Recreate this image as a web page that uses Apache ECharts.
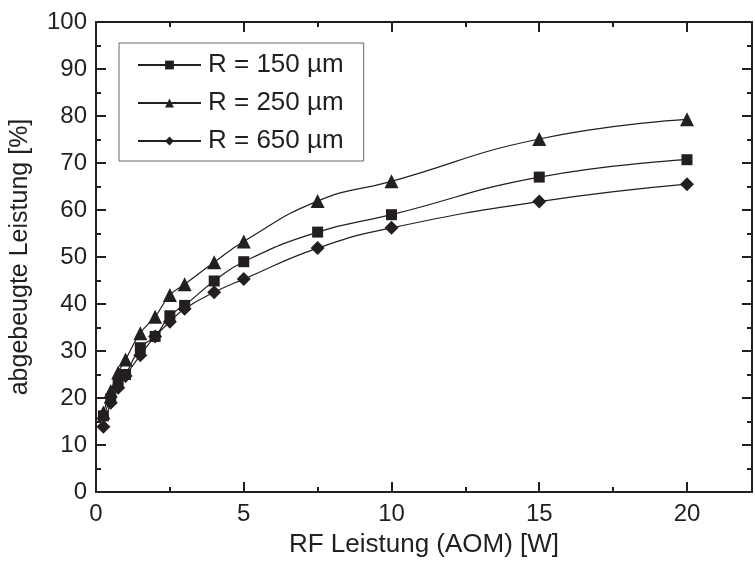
<!DOCTYPE html>
<html>
<head>
<meta charset="utf-8">
<script src="https://cdn.jsdelivr.net/npm/echarts@6/dist/echarts.min.js"></script>
<style>
html,body{margin:0;padding:0;background:#fff;}
#chart{width:755px;height:563px;}
</style>
</head>
<body>
<div id="chart"></div>
<script>
// Data
var xValues = [0.25, 0.5, 0.75, 1, 1.5, 2, 2.5, 3, 4, 5, 7.5, 10, 15, 20];
var r150 = [16.2, 19.8, 23.0, 25.0, 30.7, 33.1, 37.5, 39.7, 44.9, 49.0, 55.3, 59.0, 67.0, 70.7];
var r250 = [16.9, 21.5, 25.4, 28.2, 33.8, 37.3, 41.9, 44.2, 48.9, 53.3, 61.9, 66.1, 75.1, 79.3];
var r650 = [13.9, 19.0, 22.2, 24.7, 29.1, 33.1, 36.2, 39.0, 42.5, 45.3, 51.9, 56.2, 61.8, 65.5];
var seriesNames = ['R = 150 µm', 'R = 250 µm', 'R = 650 µm'];
var xTicks = [0, 5, 10, 15, 20];
var yTicks = [0, 10, 20, 30, 40, 50, 60, 70, 80, 90, 100];

function pairs(ys) { return xValues.map(function (x, i) { return [x, ys[i]]; }); }

var FONT = 'Liberation Sans';
var INK = '#231f20';
var XMAX = 22.2;

var chart = echarts.init(document.getElementById('chart'), null, {renderer: 'canvas'});

function xAxisCfg(pos, interval, len, showLine, showLabel) {
  return {
    type: 'value', position: pos, min: 0, max: XMAX, interval: interval,
    axisLine: {show: showLine, onZero: false, lineStyle: {color: INK, width: 2}},
    axisTick: {show: true, inside: true, length: len, lineStyle: {color: INK, width: 2}},
    axisLabel: {
      show: showLabel, color: INK, fontFamily: FONT, fontSize: 24, margin: 10,
      formatter: function (v) { return xTicks.indexOf(v) >= 0 ? String(v) : ''; }
    },
    splitLine: {show: false}
  };
}

function yAxisCfg(pos, showLabel) {
  return {
    type: 'value', position: pos, min: 0, max: 100, interval: 10,
    axisLine: {show: true, onZero: false, lineStyle: {color: INK, width: 2}},
    axisTick: {show: true, inside: true, length: 10, lineStyle: {color: INK, width: 2}},
    minorTick: {show: true, splitNumber: 2, length: 5, lineStyle: {color: INK, width: 2}},
    axisLabel: {
      show: showLabel, color: INK, fontFamily: FONT, fontSize: 24, margin: 9,
      formatter: function (v) { return yTicks.indexOf(v) >= 0 ? String(v) : ''; }
    },
    splitLine: {show: false}
  };
}

var xMain = xAxisCfg('bottom', 5, 10, true, true);
xMain.name = 'RF Leistung (AOM) [W]';
xMain.nameLocation = 'middle';
xMain.nameGap = 40;
xMain.nameTextStyle = {color: INK, fontFamily: FONT, fontSize: 26};

var yMain = yAxisCfg('left', true);
yMain.name = 'abgebeugte Leistung [%]';
yMain.nameLocation = 'middle';
yMain.nameGap = 63;
yMain.nameTextStyle = {color: INK, fontFamily: FONT, fontSize: 25};

var symbols = ['rect', 'triangle', 'diamond'];
var sizes = [11, 14, 14];
var datas = [r150, r250, r650];

var series = datas.map(function (d, i) {
  return {
    name: seriesNames[i], type: 'line', xAxisIndex: 0, yAxisIndex: 0,
    data: pairs(d), smooth: 0.5,
    symbol: symbols[i], symbolSize: sizes[i],
    showSymbol: true,
    lineStyle: {color: INK, width: 1.2},
    itemStyle: {color: INK, borderColor: INK, borderWidth: 0},
    emphasis: {disabled: true},
    animation: false, z: 3
  };
});

chart.setOption({
  backgroundColor: '#ffffff',
  animation: false,
  grid: {left: 96, top: 22, right: 1, bottom: 68, containLabel: false},
  legend: {
    orient: 'vertical', left: 119, top: 43,
    padding: [9, 20, 7, 18], itemGap: 12,
    itemWidth: 63, itemHeight: 11,
    borderColor: '#666', borderWidth: 1, backgroundColor: '#fff',
    textStyle: {color: INK, fontFamily: FONT, fontSize: 26, padding: [0, 0, 0, 2]},
    data: seriesNames.map(function (n) { return {name: n}; }),
    selectedMode: false
  },
  xAxis: [
    xMain,
    xAxisCfg('bottom', 2.5, 5, false, false),
    xAxisCfg('top', 5, 10, true, false),
    xAxisCfg('top', 2.5, 5, false, false)
  ],
  yAxis: [
    yMain,
    yAxisCfg('right', false)
  ],
  series: series
});
</script>
</body>
</html>
